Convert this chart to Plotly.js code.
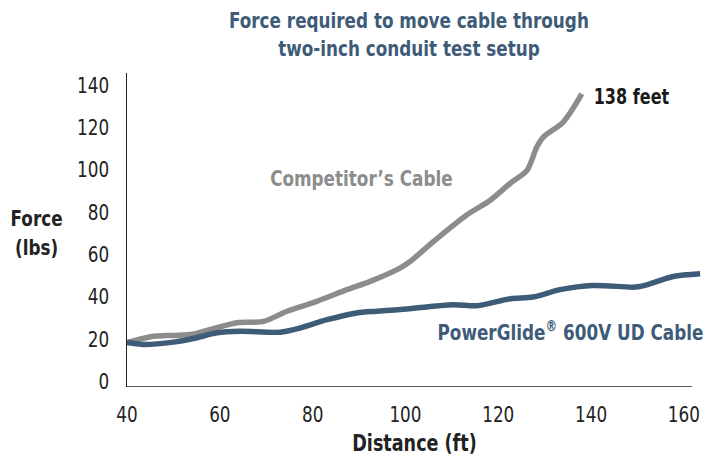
<!DOCTYPE html>
<html>
<head>
<meta charset="utf-8">
<script src="https://cdn.plot.ly/plotly-3.0.1.min.js"></script>
<style>html,body{margin:0;padding:0;background:#fff;}#chart{width:710px;height:459px;}</style>
</head>
<body>
<div id="chart"></div>
<script>
// Competitor's cable (gray)
var compDistance = [40, 45.7, 48.6, 53.6, 58.6, 63.7, 69.4, 74.5, 80.9, 87.4, 92.4, 98.9, 101.0, 106.0, 113.2, 118.3, 122.6, 126.2, 128.3, 129.7, 134.0, 138.0];
var compForce    = [18.3, 21.3, 21.6, 22.1, 24.9, 27.7, 28.3, 33.1, 37.8, 43.3, 47.2, 53.6, 56.6, 66.0, 78.6, 85.6, 93.6, 99.7, 110.7, 115.4, 122.5, 135.8];
// PowerGlide 600V UD cable (blue)
var pgDistance = [40, 43.5, 50.0, 54.3, 59.4, 64.4, 73.0, 77.3, 83.1, 89.5, 93.8, 98.9, 110.3, 115.4, 122.6, 127.5, 133.3, 140.4, 149.0, 151.2, 157.7, 163.5];
var pgForce    = [18.3, 17.4, 18.5, 20.2, 22.9, 23.6, 23.2, 25.2, 29.1, 32.3, 33.1, 33.9, 36.2, 35.7, 39.0, 39.8, 43.3, 45.3, 44.5, 45.1, 49.5, 50.8];

var xTicks = [40, 60, 80, 100, 120, 140, 160];
var yTicks = [0, 20, 40, 60, 80, 100, 120, 140];

var COND = '"Liberation Sans Narrow", "DejaVu Sans Condensed", "Roboto Condensed", "Arial Narrow", sans-serif';
var BLUE = '#3e5b78';
var GRAY = '#8c8c8c';

var traces = [
  {x: compDistance, y: compForce, mode: 'lines', line: {color: GRAY, width: 5.5, shape: 'spline', smoothing: 0.8}, hoverinfo: 'skip'},
  {x: pgDistance, y: pgForce, mode: 'lines', line: {color: BLUE, width: 5.5, shape: 'spline', smoothing: 0.8}, hoverinfo: 'skip'}
];

var layout = {
  width: 710, height: 459,
  margin: {l: 127, r: 8, t: 73, b: 71.5},
  paper_bgcolor: '#fff', plot_bgcolor: '#fff',
  showlegend: false,
  font: {family: COND, color: '#222'},
  title: {
    text: '<b>Force required to move cable through<br>two-inch conduit test setup</b>',
    font: {family: COND, size: 22, color: BLUE},
    x: 0.576, xanchor: 'center', xref: 'container',
    y: 0.94, yanchor: 'middle', yref: 'container'
  },
  xaxis: {
    range: [40, 163.9], tickvals: xTicks, ticktext: xTicks.map(String),
    showline: false, showgrid: false, zeroline: false, ticks: '',
    ticklabelstandoff: 12,
    tickfont: {family: COND, size: 22, color: '#222'},
    title: {text: '<b>Distance (ft)</b>', font: {family: COND, size: 23, color: '#222'}, standoff: 8}
  },
  yaxis: {
    range: [-2.7, 145.7], tickvals: yTicks, ticktext: yTicks.map(String),
    showline: true, linecolor: '#222', linewidth: 1.5,
    showgrid: false, zeroline: false, ticks: '',
    ticklabelstandoff: 12,
    tickfont: {family: COND, size: 22, color: '#222'}
  },
  shapes: [
    {type: 'line', xref: 'x', yref: 'y', x0: 40, x1: 161.7, y0: -2.7, y1: -2.7, line: {color: '#222', width: 1.5}}
  ],
  annotations: [
    {text: '<b>Force<br>(lbs)</b>', xref: 'paper', yref: 'paper', x: -0.157, y: 0.492, xanchor: 'center', yanchor: 'middle', showarrow: false, font: {family: COND, size: 22, color: '#222'}},
    {text: '<b>Competitor’s Cable</b>', xref: 'x', yref: 'y', x: 90.5, y: 96, xanchor: 'center', yanchor: 'middle', showarrow: false, font: {family: COND, size: 22, color: GRAY}},
    {text: '<b>PowerGlide<sup>®</sup> 600V UD Cable</b>', xref: 'x', yref: 'y', x: 135.6, y: 23.6, xanchor: 'center', yanchor: 'middle', showarrow: false, font: {family: COND, size: 22, color: BLUE}},
    {text: '<b>138 feet</b>', xref: 'x', yref: 'y', x: 138.6, y: 134.4, xanchor: 'left', yanchor: 'middle', showarrow: false, font: {family: COND, size: 21, color: '#1a1a1a'}}
  ]
};

// Narrow the (condensed) glyphs horizontally to imitate the reference's condensed typeface
function condense(gd, k) {
  gd.querySelectorAll('svg text').forEach(function (t) {
    if (!t.textContent.trim()) return;
    var bb = t.getBBox();
    var anchor = t.getAttribute('text-anchor') || 'start';
    var ax = anchor === 'middle' ? bb.x + bb.width / 2 : (anchor === 'end' ? bb.x + bb.width : bb.x);
    var tr = t.getAttribute('transform') || '';
    t.setAttribute('transform', tr + ' translate(' + ax + ',0) scale(' + k + ',1) translate(' + (-ax) + ',0)');
  });
}

Plotly.newPlot('chart', traces, layout, {staticPlot: true, displayModeBar: false}).then(function (gd) {
  condense(gd, 0.85);
});
</script>
</body>
</html>
